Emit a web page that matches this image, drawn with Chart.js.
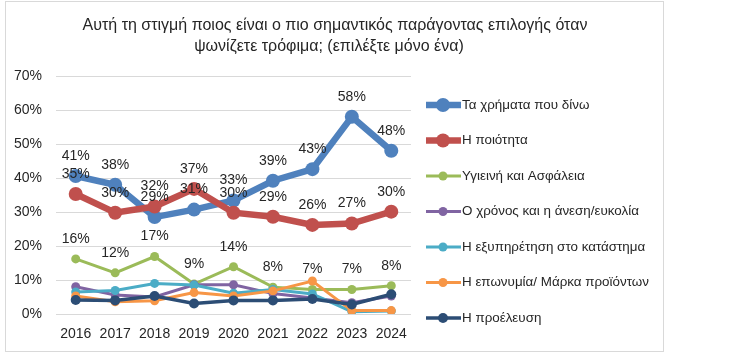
<!DOCTYPE html>
<html>
<head>
<meta charset="utf-8">
<script src="https://cdn.jsdelivr.net/npm/chart.js@4"></script>
<style>
  html, body { margin: 0; padding: 0; background: #ffffff; }
  #wrap { position: relative; width: 744px; height: 361px; }
  #frame { position: absolute; left: 5px; top: 1px; width: 659px; height: 351px; border: 1px solid #d9d9d9; box-sizing: border-box; }
  canvas { position: absolute; left: 0; top: 0; }
</style>
</head>
<body>
<div id="wrap">
  <div id="frame"></div>
  <canvas id="c" width="744" height="361"></canvas>
</div>
<script>
const titleLines = ['Αυτή τη στιγμή ποιος είναι ο πιο σημαντικός παράγοντας επιλογής όταν', 'ψωνίζετε τρόφιμα; (επιλέξτε μόνο ένα)'];
const categories = ['2016', '2017', '2018', '2019', '2020', '2021', '2022', '2023', '2024'];
const seriesNames = ['Τα χρήματα που δίνω', 'Η ποιότητα', 'Υγιεινή και Ασφάλεια', 'Ο χρόνος και η άνεση/ευκολία', 'Η εξυπηρέτηση στο κατάστημα', 'Η επωνυμία/ Μάρκα προϊόντων', 'Η προέλευση'];
const money    = [40.6, 38.0, 28.5, 30.7, 33.4, 39.2, 42.6, 58.0, 48.0];
const quality  = [35.3, 29.8, 31.6, 36.8, 29.8, 28.6, 26.2, 26.6, 30.1];
const hygiene  = [16.2, 12.1, 16.9, 8.8, 13.9, 7.9, 7.2, 7.2, 8.3];
const timeEase = [8.0, 5.6, 5.0, 8.6, 8.6, 6.0, 4.7, 3.3, 5.3];
const service  = [6.5, 6.9, 9.0, 8.5, 6.1, 7.2, 5.9, 0.7, 0.9];
const brand    = [5.3, 3.6, 3.9, 6.3, 5.3, 6.8, 9.7, 1.0, 1.0];
const origin   = [4.1, 4.0, 5.3, 3.1, 4.0, 4.0, 4.4, 2.8, 5.8];
const yTicks = [0, 10, 20, 30, 40, 50, 60, 70];

const FONT = '"Liberation Sans", Arial, sans-serif';
const colors = ['#4F81BD', '#C0504D', '#9BBB59', '#8064A2', '#4BACC6', '#F79646', '#2C4D75'];
const widths = [6.5, 6.5, 3, 3, 3, 3, 3.5];
const radii = [7, 7, 4.5, 4.5, 4.5, 4.5, 5];
const labelled = [true, true, true, false, false, false, false];
const values = [money, quality, hygiene, timeEase, service, brand, origin];

const datasets = values.map((v, i) => ({
  label: seriesNames[i],
  data: v,
  borderColor: colors[i],
  backgroundColor: colors[i],
  pointBackgroundColor: colors[i],
  pointBorderColor: colors[i],
  borderWidth: widths[i],
  pointRadius: radii[i],
  pointBorderWidth: 0,
  pointHoverRadius: radii[i],
  tension: 0,
  order: values.length - 1 - i,
  showLabels: labelled[i]
}));

const extras = {
  id: 'extras',
  afterDatasetsDraw(chart) {
    const ctx = chart.ctx;
    ctx.save();
    ctx.fillStyle = '#262626';
    ctx.font = '14px ' + FONT;
    ctx.textAlign = 'center';
    ctx.textBaseline = 'middle';
    chart.data.datasets.forEach((ds, i) => {
      if (!ds.showLabels) return;
      const meta = chart.getDatasetMeta(i);
      meta.data.forEach((pt, j) => {
        ctx.fillText(Math.round(ds.data[j]) + '%', pt.x, pt.y - 20);
      });
    });
    ctx.restore();
  },
  afterDraw(chart) {
    const ctx = chart.ctx;
    ctx.save();
    // title
    ctx.fillStyle = '#262626';
    ctx.font = '16px ' + FONT;
    ctx.textAlign = 'center';
    ctx.textBaseline = 'middle';
    ctx.fillText(titleLines[0], 335, 26);
    ctx.fillText(titleLines[1], 329, 47);
    // legend
    ctx.font = '13.4px ' + FONT;
    ctx.textAlign = 'left';
    chart.data.datasets.forEach((ds, i) => {
      const y = 105 + i * 35.5;
      ctx.strokeStyle = ds.borderColor;
      ctx.lineWidth = ds.borderWidth;
      ctx.beginPath();
      ctx.moveTo(426, y);
      ctx.lineTo(461, y);
      ctx.stroke();
      ctx.fillStyle = ds.borderColor;
      ctx.beginPath();
      ctx.arc(443, y, ds.pointRadius, 0, Math.PI * 2);
      ctx.fill();
      ctx.fillStyle = '#262626';
      ctx.fillText(ds.label, 462, y);
    });
    ctx.restore();
  }
};

new Chart(document.getElementById('c'), {
  type: 'line',
  data: { labels: categories, datasets },
  options: {
    responsive: false,
    animation: false,
    events: [],
    layout: { padding: { left: 0, right: 333, top: 76, bottom: 0 } },
    plugins: { legend: { display: false }, title: { display: false }, tooltip: { enabled: false } },
    scales: {
      x: {
        offset: true,
        grid: { display: false, drawTicks: false },
        border: { display: false },
        ticks: { color: '#262626', font: { family: FONT, size: 14 }, padding: 12, maxRotation: 0 },
        afterFit(scale) { scale.height = 47; }
      },
      y: {
        min: 0, max: 70,
        afterBuildTicks(scale) { scale.ticks = yTicks.map(v => ({ value: v })); },
        grid: { color: '#d9d9d9', lineWidth: 1, drawTicks: false },
        border: { display: false },
        ticks: { color: '#262626', font: { family: FONT, size: 14 }, padding: 14, callback: v => v + '%' },
        afterFit(scale) { scale.width = 56; }
      }
    }
  },
  plugins: [extras]
});
</script>
</body>
</html>
